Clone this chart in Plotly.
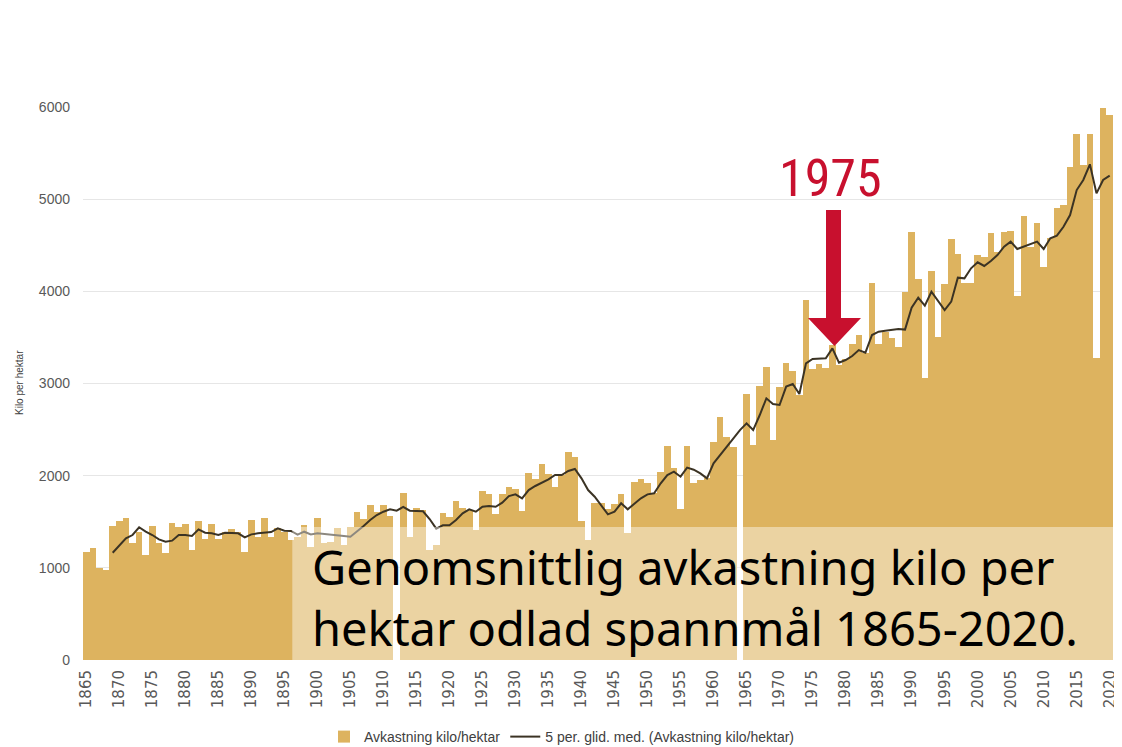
import plotly.graph_objects as go

years = list(range(1865, 2021))

yield_kg = [
    1175, 1219, 1002, 976, 1454, 1511, 1544, 1266, 1392, 1139,   # 1865-1874
    1454, 1266, 1157, 1490, 1447, 1476, 1193, 1508, 1309, 1472,   # 1875-1884
    1309, 1392, 1421, 1392, 1168, 1519, 1338, 1537, 1338, 1429,   # 1885-1894
    1392, 1300, 1330, 1465, 1229, 1544, 1266, 1276, 1435, 1250,   # 1895-1904
    1440, 1609, 1530, 1682, 1609, 1682, 1562, None, 1815, 1338,   # 1905-1914
    1653, 1628, 1193, 1250, 1598, 1555, 1729, 1646, 1628, 1410,   # 1915-1924
    1837, 1805, 1584, 1797, 1880, 1855, 1617, 2032, 1960, 2127,   # 1925-1934
    2014, 1873, 2007, 2260, 2199, 1511, 1302, 1707, 1707, 1640,   # 1935-1944
    1690, 1797, 1381, 1928, 1968, 1917, 1808, 2036, 2322, 2087,   # 1945-1954
    1638, 2322, 1924, 1950, 1980, 2362, 2633, 2423, 2307, None,   # 1955-1964
    2886, 2333, 2977, 3174, 2387, 2958, 3225, 3139, 2875, 3906,   # 1965-1974
    3154, 3211, 3164, 3418, 3200, 3262, 3429, 3526, 3334, 4094,   # 1975-1984
    3429, 3562, 3490, 3399, 3997, 4641, 4131, 3058, 4225, 3509,   # 1985-1994
    4083, 4568, 4402, 4094, 4094, 4392, 4374, 4629, 4430, 4647,   # 1995-2004
    4658, 3953, 4821, 4485, 4745, 4268, 4575, 4900, 4937, 5352,   # 2005-2014
    5707, 5370, 5707, 3273, 5985, 5913,                           # 2015-2020
]

moving_avg = [
    None, None, None, None, 1164, 1240, 1320, 1356, 1440, 1392,   # 1865-1874
    1356, 1309, 1284, 1295, 1356, 1356, 1345, 1417, 1381, 1374,   # 1875-1884
    1356, 1381, 1381, 1374, 1331, 1363, 1374, 1381, 1388, 1428,   # 1885-1894
    1403, 1400, 1360, 1392, 1363, 1374, 1365, 1356, 1350, 1345,   # 1895-1904
    1338, 1392, 1454, 1519, 1573, 1609, 1635, 1620, 1660, 1620,   # 1905-1914
    1613, 1613, 1530, 1425, 1461, 1461, 1519, 1591, 1635, 1609,   # 1915-1924
    1663, 1671, 1663, 1707, 1779, 1797, 1754, 1844, 1888, 1924,   # 1925-1934
    1960, 2007, 2007, 2051, 2073, 1971, 1844, 1772, 1681, 1580,   # 1935-1944
    1609, 1700, 1635, 1693, 1754, 1797, 1808, 1917, 2007, 2044,   # 1945-1954
    1989, 2087, 2065, 2025, 1971, 2134, 2224, 2315, 2405, 2495,   # 1955-1964
    2568, 2495, 2658, 2839, 2778, 2767, 2966, 2995, 2886, 3219,   # 1965-1974
    3266, 3273, 3273, 3381, 3226, 3255, 3298, 3363, 3334, 3526,   # 1975-1984
    3562, 3573, 3580, 3590, 3585, 3823, 3931, 3844, 3996, 3895,   # 1985-1994
    3797, 3888, 4148, 4141, 4250, 4315, 4275, 4329, 4394, 4484,   # 1995-2004
    4539, 4459, 4484, 4510, 4539, 4459, 4575, 4604, 4701, 4828,   # 2005-2014
    5099, 5208, 5378, 5063, 5208, 5255,                           # 2015-2020
]

tick_years = list(range(1865, 2021, 5))
y_ticks = [0, 1000, 2000, 3000, 4000, 5000, 6000]

bar_name = "Avkastning kilo/hektar"
line_name = "5 per. glid. med. (Avkastning kilo/hektar)"
caption = "Genomsnittlig avkastning kilo per<br>hektar odlad spannmål 1865-2020."
marker_label = "1975"
y_title = "Kilo per hektar"

# page geometry (pixels in the screenshot); the page body has an 8px margin
OFF = 8
W, H = 1122 - OFF, 747 - OFF
L, R, T, B = 83, 1113, 107, 660          # plot area in page pixels


def px(x):
    return (x - L) / (R - L)


def py(y):
    return (B - y) / (B - T)


GOLD = "#DDB35F"
RED = "#C8102E"

fig = go.Figure()
fig.add_trace(go.Bar(
    x=years, y=yield_kg, name=bar_name,
    marker=dict(color=GOLD, line=dict(width=0)),
))
fig.add_trace(go.Scatter(
    x=years, y=moving_avg, name=line_name, mode="lines",
    line=dict(color="#3B3324", width=2),
))

# translucent white box behind the caption
fig.add_shape(type="rect", xref="x", yref="y", x0=1896.2, x1=2020.5, y0=0, y1=1443,
              fillcolor="rgba(255,255,255,0.42)", line=dict(width=0), layer="above")

# red arrow
pts = [(826, 210), (841, 210), (841, 318), (861, 318), (834.5, 346), (808, 318), (826, 318)]
path = "M " + " L ".join(f"{px(a):.5f},{py(b):.5f}" for a, b in pts) + " Z"
fig.add_shape(type="path", xref="paper", yref="paper", path=path,
              fillcolor=RED, line=dict(width=0), layer="above")

annotations = [
    dict(text=marker_label, x=px(830), y=py(178), xref="paper", yref="paper",
         xanchor="center", yanchor="middle", showarrow=False,
         font=dict(family="Liberation Sans Narrow, Roboto Condensed, Noto Sans", size=52, color=RED)),
    dict(text=caption, x=px(310), y=py(597), xref="paper", yref="paper",
         xanchor="left", yanchor="middle", align="left", showarrow=False,
         font=dict(family="Noto Sans", size=47, color="#000000")),
    dict(text=y_title, x=px(19), y=py(383), xref="paper", yref="paper",
         xanchor="center", yanchor="middle", showarrow=False, textangle=-90,
         font=dict(family="Liberation Sans, Arial", size=10, color="#404040")),
]

fig.update_layout(
    width=W, height=H,
    margin=dict(l=L - OFF, r=(W + OFF) - R, t=T - OFF, b=(H + OFF) - B, autoexpand=False),
    paper_bgcolor="white", plot_bgcolor="white",
    bargap=0,
    showlegend=True,
    legend=dict(orientation="h", x=px(562), xanchor="center", y=py(737), yanchor="middle",
                font=dict(family="Liberation Sans, Arial", size=14, color="#404040")),
    annotations=annotations,
    font=dict(family="Liberation Sans, Arial", color="#595959"),
)
fig.update_xaxes(
    range=[1864.5, 2020.5], tickmode="array", tickvals=tick_years,
    ticktext=[str(t) for t in tick_years], tickangle=-90, automargin=False,
    tickfont=dict(family="DejaVu Sans", size=15, color="#595959"), showgrid=False,
    zeroline=False, showline=False, ticks="", ticklabelstandoff=6,
)
fig.update_yaxes(
    range=[0, 6000], tickmode="array", tickvals=y_ticks, automargin=False,
    tickfont=dict(size=14, color="#595959"), showgrid=True, gridcolor="#E6E6E6",
    gridwidth=1, zeroline=False, ticks="", ticklabelstandoff=12,
)

fig.write_html("out.html")
